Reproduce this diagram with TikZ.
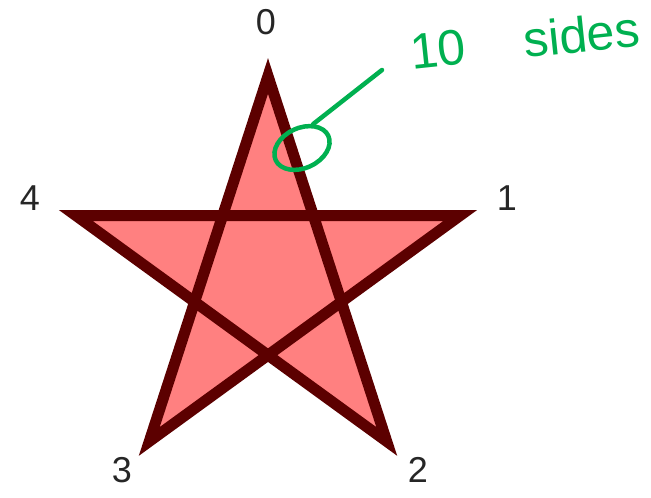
\documentclass[tikz,border=0pt]{standalone}
\usepackage{fontspec}
\setmainfont{Liberation Sans}
\usepackage{tikz}
\usetikzlibrary{shapes.geometric,positioning,calc}
\definecolor{starfill}{HTML}{FF8080}
\definecolor{stardraw}{HTML}{5C0000}
\definecolor{penink}{HTML}{00B050}

\begin{document}
\begin{tikzpicture}[
    x=1pt, y=1pt,
    vlabel/.style={font=\fontsize{36}{36}\selectfont, text=black!85, inner sep=0pt},
    starline/.style={draw=stardraw, fill=starfill, line width=11pt, miter limit=10},
    note/.style={font=\fontsize{50}{50}\selectfont, text=penink, inner sep=0pt},
    pen/.style={draw=penink, line width=4.5pt, line cap=round}
]
\useasboundingbox (0,0) rectangle (651,498);
\coordinate (c) at (268,220);

% star corners, numbered clockwise from the top
\foreach \i/\ang in {0/90, 1/18, 2/-54, 3/-126, 4/162}
  \coordinate (v\i) at ($(c)+(\ang:202)$);
\path[starline] (v0) -- (v2) -- (v4) -- (v1) -- (v3) -- cycle;

% corner numbers
\node[vlabel] (lab0) at (266,476) {0};
\node[vlabel] (lab1) at (507,300) {1};
\node[vlabel] (lab2) at (418,28) {2};
\node[vlabel] (lab3) at (122,28) {3};
\node[vlabel] (lab4) at (30,300) {4};

% annotation
\node[ellipse, pen, minimum width=58pt, minimum height=40pt, rotate=25] (ring) at (302,350) {};
\node[note, rotate=6] (sides) at (525,458) {10\hspace{58pt}sides};
\coordinate (tail) at (382,428);
\draw[pen] (ring.40) -- (tail);
\end{tikzpicture}
\end{document}
